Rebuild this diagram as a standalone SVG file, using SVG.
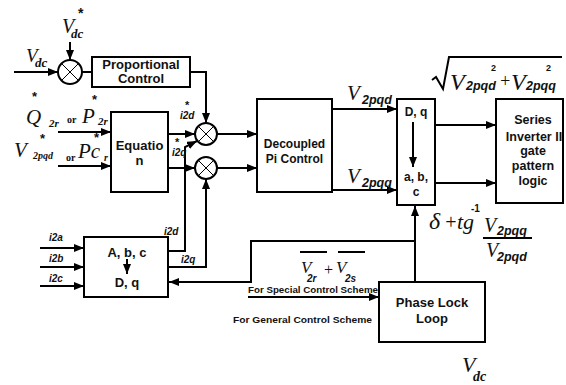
<svg xmlns="http://www.w3.org/2000/svg" width="566" height="385" viewBox="0 0 566 385">
<defs>
<marker id="ah" markerUnits="userSpaceOnUse" markerWidth="11" markerHeight="9" refX="10" refY="4" orient="auto">
<path d="M0,0 L10,4 L0,8 z" fill="#000"/>
</marker>
<style>
.ln{stroke:#000;stroke-width:2;fill:none}
.ar{stroke:#000;stroke-width:2;fill:none;marker-end:url(#ah)}
.box{fill:#fff;stroke:#000;stroke-width:2}
.sum circle{fill:#fff;stroke:#000;stroke-width:2}
.sum path{stroke:#000;stroke-width:1;fill:none}
.t{font-family:"Liberation Sans",Arial,sans-serif;font-weight:bold;text-anchor:middle;fill:#111}
.m{font-family:"Liberation Serif","Times New Roman",serif;font-style:italic;fill:#111}
.s{font-family:"Liberation Sans",Arial,sans-serif;font-weight:bold;font-style:italic;fill:#111}
.sm{font-family:"Liberation Sans",Arial,sans-serif;font-weight:bold;fill:#111}
.or{font-family:"Liberation Serif","Times New Roman",serif;font-weight:bold;fill:#111}
</style>
</defs>
<rect width="566" height="385" fill="#fff"/>

<g id="connectors">
<path class="ar" d="M14,72 H58"/>
<path class="ar" d="M70,42 V60"/>
<path class="ln" d="M82,72 H92"/>
<path class="ar" d="M190,72 H206 V123"/>
<path class="ar" d="M58,132 H111"/>
<path class="ar" d="M58,166 H111"/>
<path class="ar" d="M168,134 H195"/>
<path class="ar" d="M168,168 H195"/>
<path class="ar" d="M168,251 H185 V147 L197,141"/>
<path class="ar" d="M168,267 H206 V179"/>
<path class="ar" d="M40,248 H84"/>
<path class="ar" d="M40,267 H84"/>
<path class="ar" d="M40,286 H84"/>
<path class="ar" d="M217,134 H257"/>
<path class="ar" d="M217,168 H257"/>
<path class="ar" d="M332,109 H397"/>
<path class="ar" d="M332,190 H397"/>
<path class="ar" d="M435,125 H496"/>
<path class="ar" d="M435,183 H496"/>
<path class="ar" d="M415,282 V206"/>
<path class="ar" d="M415,241 H251 V282 H169"/>
<path class="ar" d="M248,297 H379"/>
</g>

<g id="sum-vdc" class="sum">
<circle cx="70" cy="72" r="12"/>
<path d="M61.5,63.5 L78.5,80.5 M78.5,63.5 L61.5,80.5"/>
</g>
<g id="sum-d" class="sum">
<circle cx="206" cy="134" r="11"/>
<path d="M198.2,126.2 L213.8,141.8 M213.8,126.2 L198.2,141.8"/>
</g>
<g id="sum-q" class="sum">
<circle cx="206" cy="168" r="11"/>
<path d="M198.2,160.2 L213.8,175.8 M213.8,160.2 L198.2,175.8"/>
</g>

<g id="proportional">
<rect class="box" x="92" y="57" width="98" height="30"/>
<text class="t" x="141" y="69" font-size="13">Proportional</text>
<text class="t" x="141" y="83" font-size="13">Control</text>
</g>

<g id="equation">
<rect class="box" x="111" y="112" width="57" height="80"/>
<text class="t" x="139.5" y="150" font-size="13">Equatio</text>
<text class="t" x="139.5" y="165" font-size="13">n</text>
</g>

<g id="abc-dq">
<rect class="box" x="84" y="237" width="84" height="60"/>
<text class="t" x="127" y="257" font-size="13">A, b, c</text>
<path class="ar" d="M127,259 V274"/>
<text class="t" x="127" y="287" font-size="13">D, q</text>
</g>

<g id="decoupled">
<rect class="box" x="257" y="99" width="75" height="93"/>
<text class="t" x="294.5" y="148" font-size="12">Decoupled</text>
<text class="t" x="294.5" y="163" font-size="12">Pi Control</text>
</g>

<g id="dq-abc">
<rect class="box" x="397" y="99" width="38" height="106"/>
<text class="t" x="416" y="116" font-size="12">D, q</text>
<path class="ar" d="M413,122 V167"/>
<text class="t" x="416" y="181" font-size="12">a, b,</text>
<text class="t" x="416" y="196" font-size="12">c</text>
</g>

<g id="series-inverter">
<rect class="box" x="496" y="99" width="67" height="104"/>
<text class="t" x="533" y="124" font-size="12.5">Series</text>
<text class="t" x="534" y="141" font-size="12.5">Inverter II</text>
<text class="t" x="533" y="155" font-size="12.5">gate</text>
<text class="t" x="533" y="170" font-size="12.5">pattern</text>
<text class="t" x="533" y="185" font-size="12.5">logic</text>
</g>

<g id="pll">
<rect class="box" x="379" y="282" width="106" height="60"/>
<text class="t" x="432" y="307" font-size="13">Phase Lock</text>
<text class="t" x="432" y="323" font-size="13">Loop</text>
</g>

<g id="labels">
<text class="m" x="62" y="33" font-size="20">V</text>
<text class="m" x="71" y="38" font-size="13" font-weight="bold">dc</text>
<text class="sm" x="78" y="18" font-size="14">*</text>
<text class="m" x="26" y="62" font-size="19">V</text>
<text class="m" x="35" y="67" font-size="13" font-weight="bold">dc</text>
<text class="m" x="26" y="124" font-size="21">Q</text>
<text class="m" x="49" y="127" font-size="11" font-weight="bold">2r</text>
<text class="sm" x="32" y="101" font-size="13">*</text>
<text class="or" x="67" y="123" font-size="10">or</text>
<text class="m" x="82" y="123" font-size="21">P</text>
<text class="m" x="98" y="125" font-size="11" font-weight="bold">2r</text>
<text class="sm" x="92" y="104" font-size="13">*</text>
<text class="m" x="14" y="157" font-size="21">V</text>
<text class="m" x="33" y="159" font-size="10" font-weight="bold">2pqd</text>
<text class="sm" x="40" y="143" font-size="13">*</text>
<text class="or" x="66" y="161" font-size="10">or</text>
<text class="m" x="78" y="158" font-size="21">Pc</text>
<text class="m" x="104" y="161" font-size="10" font-weight="bold">r</text>
<text class="sm" x="94" y="142" font-size="13">*</text>
<text class="sm" x="185" y="109" font-size="11">*</text>
<text class="s" x="180" y="119" font-size="10">i2d</text>
<text class="sm" x="175" y="146" font-size="11">*</text>
<text class="s" x="172" y="156" font-size="10">i2q</text>
<text class="s" x="164" y="235" font-size="10">i2d</text>
<text class="s" x="181" y="263" font-size="10">i2q</text>
<text class="s" x="49" y="241" font-size="10">i2a</text>
<text class="s" x="49" y="262" font-size="10">i2b</text>
<text class="s" x="49" y="282" font-size="10">i2c</text>
<text class="m" x="347" y="100" font-size="21">V</text>
<text class="s" x="362" y="104" font-size="12.5">2pqd</text>
<text class="m" x="347" y="183" font-size="21">V</text>
<text class="s" x="362" y="187" font-size="12.5">2pqq</text>
<path class="ln" d="M432,80 L436,77 L443,89 L449,57 H562"/>
<text class="m" x="450" y="90" font-size="24">V</text>
<text class="s" x="466" y="90" font-size="12.5">2pqd</text>
<text class="sm" x="491" y="71" font-size="9">2</text>
<text class="m" x="499" y="87" font-size="18" font-style="normal">+</text>
<text class="m" x="511" y="90" font-size="24">V</text>
<text class="s" x="526" y="90" font-size="12.5">2pqq</text>
<text class="sm" x="546" y="71" font-size="9">2</text>
<text class="m" x="429" y="229" font-size="24">δ</text>
<text class="m" x="444" y="229" font-size="20" font-style="normal">+</text>
<text class="m" x="457" y="229" font-size="22">tg</text>
<text class="sm" x="471" y="212" font-size="10">-1</text>
<text class="m" x="484" y="232" font-size="20">V</text>
<text class="s" x="497" y="235" font-size="12.5">2pqq</text>
<path class="ln" d="M483,238 H532" stroke-width="1.5"/>
<text class="m" x="486" y="257" font-size="20">V</text>
<text class="s" x="497" y="261" font-size="12.5">2pqd</text>
<path class="ln" d="M300,252 H327 M338,252 H365" stroke-width="1.2"/>
<text class="m" x="301" y="273" font-size="17">V</text>
<text class="s" x="307" y="282" font-size="10">2r</text>
<text class="m" x="323" y="275" font-size="16" font-style="normal">+</text>
<text class="m" x="336" y="273" font-size="17">V</text>
<text class="s" x="345" y="282" font-size="10">2s</text>
<text class="sm" x="248" y="293" font-size="9.5" textLength="130" lengthAdjust="spacingAndGlyphs">For Special Control Scheme</text>
<text class="sm" x="233" y="323" font-size="9.5" textLength="139" lengthAdjust="spacingAndGlyphs">For General Control Scheme</text>
<text class="m" x="462" y="372" font-size="22">V</text>
<text class="m" x="473" y="381" font-size="14" font-weight="bold">dc</text>
</g>
</svg>
